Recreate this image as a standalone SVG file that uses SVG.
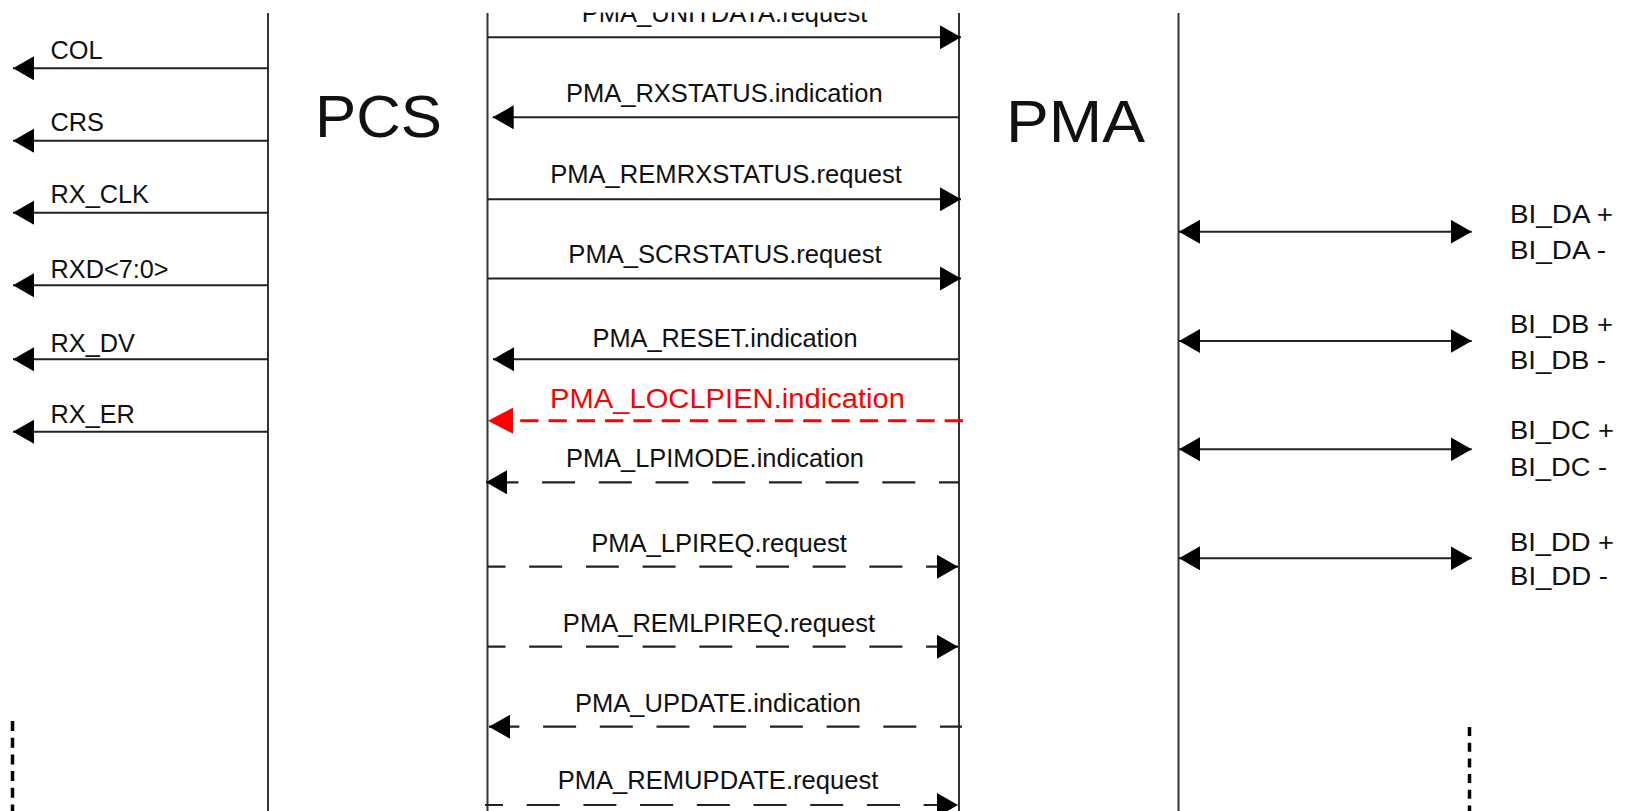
<svg xmlns="http://www.w3.org/2000/svg" width="1627" height="811" viewBox="0 0 1627 811">
<defs>
<style>
text{font-family:"Liberation Sans",Arial,sans-serif;fill:#111}
.lbl{font-size:25.3px}
.mid{font-size:25.3px;text-anchor:middle}
.big{font-size:60px}
.bi{font-size:25.6px}
.red{fill:#ff0000;font-size:28.5px;text-anchor:middle}
.vl{stroke:#333;stroke-width:2;fill:none}
.sig{stroke:#222;stroke-width:2;fill:none;marker-end:url(#ah)}
.dash{stroke:#222;stroke-width:2.2;fill:none;stroke-dasharray:33 23.7;marker-end:url(#ah)}
.bid{stroke:#222;stroke-width:2;fill:none;marker-start:url(#ah);marker-end:url(#ah)}
.dots{stroke:#000;stroke-width:3.5;fill:none}
</style>
<marker id="ah" markerUnits="userSpaceOnUse" markerWidth="22" markerHeight="24" refX="21" refY="12" orient="auto-start-reverse" viewBox="0 0 22 24"><path d="M0,0 L21,12 L0,24 z" fill="#000"/></marker>
<marker id="ahr" markerUnits="userSpaceOnUse" markerWidth="26" markerHeight="26" refX="25" refY="13" orient="auto" viewBox="0 0 26 26"><path d="M0,0 L25,13 L0,26 z" fill="#ff0000"/></marker>
<clipPath id="clip"><rect x="0" y="12.5" width="1627" height="800"/></clipPath>
</defs>
<rect width="1627" height="811" fill="#fff"/>
<g clip-path="url(#clip)">
<g id="pcs">
<line class="vl" x1="268" y1="13" x2="268" y2="811"/>
<line class="vl" x1="487.5" y1="13" x2="487.5" y2="811"/>
<text class="big" x="315" y="137" textLength="127" lengthAdjust="spacingAndGlyphs">PCS</text>
</g>
<g id="pma">
<line class="vl" x1="959" y1="13" x2="959" y2="811"/>
<line class="vl" x1="1178.5" y1="13" x2="1178.5" y2="811"/>
<text class="big" x="1006" y="142" textLength="139" lengthAdjust="spacingAndGlyphs">PMA</text>
</g>
<g id="mdi">
<text class="bi" x="1510" y="223.3" textLength="103" lengthAdjust="spacingAndGlyphs">BI_DA +</text>
<text class="bi" x="1510" y="259.3" textLength="96" lengthAdjust="spacingAndGlyphs">BI_DA -</text>
<text class="bi" x="1510" y="333.3" textLength="103" lengthAdjust="spacingAndGlyphs">BI_DB +</text>
<text class="bi" x="1510" y="369.3" textLength="96" lengthAdjust="spacingAndGlyphs">BI_DB -</text>
<text class="bi" x="1510" y="439.3" textLength="104" lengthAdjust="spacingAndGlyphs">BI_DC +</text>
<text class="bi" x="1510" y="476" textLength="97" lengthAdjust="spacingAndGlyphs">BI_DC -</text>
<text class="bi" x="1510" y="551" textLength="104" lengthAdjust="spacingAndGlyphs">BI_DD +</text>
<text class="bi" x="1510" y="585" textLength="98" lengthAdjust="spacingAndGlyphs">BI_DD -</text>
</g>
<g id="continuation">
<line class="dots" x1="12.5" y1="721" x2="12.5" y2="811" stroke-dasharray="10 6.7"/>
<line class="dots" x1="1469.5" y1="727" x2="1469.5" y2="811" stroke-dasharray="9 6.7"/>
</g>
<g id="connectors">
<line class="sig" x1="268" y1="68.3" x2="13" y2="68.3"/>
<line class="sig" x1="268" y1="140.7" x2="13" y2="140.7"/>
<line class="sig" x1="268" y1="212.7" x2="13" y2="212.7"/>
<line class="sig" x1="268" y1="285.3" x2="13" y2="285.3"/>
<line class="sig" x1="268" y1="359.3" x2="13" y2="359.3"/>
<line class="sig" x1="268" y1="431.7" x2="13" y2="431.7"/>
<line class="sig" x1="487.5" y1="37.3" x2="961" y2="37.3"/>
<line class="sig" x1="959" y1="117.3" x2="492.7" y2="117.3"/>
<line class="sig" x1="487.5" y1="199.3" x2="961" y2="199.3"/>
<line class="sig" x1="487.5" y1="278.5" x2="961" y2="278.5"/>
<line class="sig" x1="959" y1="359.3" x2="493" y2="359.3"/>
<line x1="963" y1="420.7" x2="488" y2="420.7" stroke="#ff0000" stroke-width="3" stroke-dasharray="18.3 10" marker-end="url(#ahr)"/>
<line class="dash" x1="959" y1="482.3" x2="486" y2="482.3" stroke-dashoffset="13"/>
<line class="dash" x1="487.5" y1="566.7" x2="958" y2="566.7" stroke-dashoffset="15"/>
<line class="dash" x1="487.5" y1="646.7" x2="958" y2="646.7" stroke-dashoffset="15"/>
<line class="dash" x1="962" y1="726.7" x2="489" y2="726.7" stroke-dashoffset="11"/>
<line class="dash" x1="485" y1="805" x2="958" y2="805" stroke-dashoffset="15"/>
<line class="bid" x1="1179" y1="231.7" x2="1471.7" y2="231.7"/>
<line class="bid" x1="1179" y1="341" x2="1471.7" y2="341"/>
<line class="bid" x1="1179" y1="449.3" x2="1471.7" y2="449.3"/>
<line class="bid" x1="1179" y1="558.3" x2="1471.7" y2="558.3"/>
</g>
<g id="labels">
<text class="lbl" x="50.5" y="58.8">COL</text>
<text class="lbl" x="50.5" y="130.5">CRS</text>
<text class="lbl" x="50.5" y="203">RX_CLK</text>
<text class="lbl" x="50.5" y="277.8">RXD&lt;7:0&gt;</text>
<text class="lbl" x="50.5" y="351.5">RX_DV</text>
<text class="lbl" x="50.5" y="423">RX_ER</text>
<text class="mid" x="724.5" y="22" textLength="285.6" lengthAdjust="spacingAndGlyphs">PMA_UNITDATA.request</text>
<text class="mid" x="724.3" y="101.7" textLength="316.7" lengthAdjust="spacingAndGlyphs">PMA_RXSTATUS.indication</text>
<text class="mid" x="726" y="183.3" textLength="351.7" lengthAdjust="spacingAndGlyphs">PMA_REMRXSTATUS.request</text>
<text class="mid" x="725" y="263.3" textLength="313.3" lengthAdjust="spacingAndGlyphs">PMA_SCRSTATUS.request</text>
<text class="mid" x="725" y="346.7" textLength="265" lengthAdjust="spacingAndGlyphs">PMA_RESET.indication</text>
<text class="red" x="727.5" y="408.3" textLength="355" lengthAdjust="spacingAndGlyphs">PMA_LOCLPIEN.indication</text>
<text class="mid" x="715" y="466.7" textLength="298" lengthAdjust="spacingAndGlyphs">PMA_LPIMODE.indication</text>
<text class="mid" x="719" y="551.7" textLength="255.7" lengthAdjust="spacingAndGlyphs">PMA_LPIREQ.request</text>
<text class="mid" x="719" y="631.7" textLength="312.3" lengthAdjust="spacingAndGlyphs">PMA_REMLPIREQ.request</text>
<text class="mid" x="718" y="711.7" textLength="286" lengthAdjust="spacingAndGlyphs">PMA_UPDATE.indication</text>
<text class="mid" x="718" y="789.3" textLength="320.7" lengthAdjust="spacingAndGlyphs">PMA_REMUPDATE.request</text>
</g>
</g>
</svg>
